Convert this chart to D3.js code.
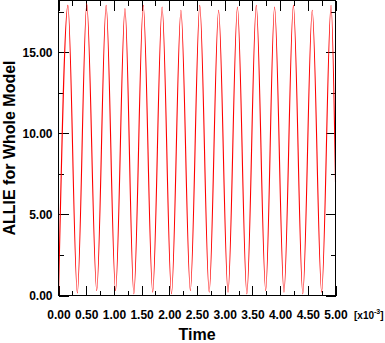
<!DOCTYPE html>
<html>
<head>
<meta charset="utf-8">
<script src="https://cdn.jsdelivr.net/npm/d3@7"></script>
<style>
  body { margin: 0; background: #fff; }
  svg { display: block; font-family: "Liberation Sans", Arial, sans-serif; font-weight: bold; }
</style>
</head>
<body>
<svg id="chart" width="385" height="343"></svg>
<script>
// time in [x10^-3], alternating trough / peak readings of ALLIE
const time = [0.00, 0.17, 0.34, 0.51, 0.69, 0.86, 1.03, 1.20, 1.36, 1.53, 1.70, 1.87,
  2.04, 2.21, 2.38, 2.55, 2.72, 2.89, 3.06, 3.23, 3.40, 3.57, 3.74, 3.90,
  4.07, 4.24, 4.41, 4.58, 4.75, 4.92, 5.00];
const allie = [0.0, 17.9, 0.15, 18.0, 0.3, 17.9, 0.3, 17.7, 0.1, 17.9, 0.2, 17.8,
  0.1, 17.6, 0.3, 17.9, 0.2, 17.6, 0.2, 17.8, 0.1, 17.9, 0.3, 17.8,
  0.2, 17.9, 0.1, 17.6, 0.2, 17.9, 7.0];

const xTicks = [0, 0.5, 1, 1.5, 2, 2.5, 3, 3.5, 4, 4.5, 5];
const xMinor = [0.25, 0.75, 1.25, 1.75, 2.25, 2.75, 3.25, 3.75, 4.25, 4.75];
const yTicks = [0, 5, 10, 15];
const yMinor = [2.5, 7.5, 12.5, 17.5];

const svg = d3.select('#chart');

const x = d3.scaleLinear().domain([0, 5]).range([58.5, 335.5]);
const y = d3.scaleLinear().domain([0, 18.2]).range([295.5, 0.5]);

const fmt = d3.format('.2f');

function styleAxis(g) {
  g.select('.domain').remove();
  g.selectAll('line').attr('stroke', '#000').attr('shape-rendering', 'crispEdges');
  g.selectAll('text').attr('fill', '#000').style('font-size', '12px').style('font-weight', 'bold');
}

// bottom
svg.append('g').attr('transform', 'translate(0,295.5)')
  .call(d3.axisBottom(x).tickValues(xTicks).tickFormat(fmt).tickSize(-10).tickPadding(15))
  .call(styleAxis);
svg.append('g').attr('transform', 'translate(0,295.5)')
  .call(d3.axisBottom(x).tickValues(xMinor).tickFormat('').tickSize(-5))
  .call(styleAxis);
// top
svg.append('g').attr('transform', 'translate(0,0.5)')
  .call(d3.axisTop(x).tickValues(xTicks).tickFormat('').tickSize(-10))
  .call(styleAxis);
svg.append('g').attr('transform', 'translate(0,0.5)')
  .call(d3.axisTop(x).tickValues(xMinor).tickFormat('').tickSize(-5))
  .call(styleAxis);
// left
svg.append('g').attr('transform', 'translate(58.5,0)')
  .call(d3.axisLeft(y).tickValues(yTicks).tickFormat(fmt).tickSize(-10).tickPadding(6))
  .call(styleAxis);
svg.append('g').attr('transform', 'translate(58.5,0)')
  .call(d3.axisLeft(y).tickValues(yMinor).tickFormat('').tickSize(-5))
  .call(styleAxis);
// right
svg.append('g').attr('transform', 'translate(335.5,0)')
  .call(d3.axisRight(y).tickValues(yTicks).tickFormat('').tickSize(-10))
  .call(styleAxis);
svg.append('g').attr('transform', 'translate(335.5,0)')
  .call(d3.axisRight(y).tickValues(yMinor).tickFormat('').tickSize(-5))
  .call(styleAxis);

// curve
const line = d3.line()
  .x((d, i) => x(time[i]))
  .y((d) => y(d))
  .curve(d3.curveMonotoneX);

svg.append('path')
  .attr('d', line(allie))
  .attr('fill', 'none')
  .attr('stroke', '#ff0000')
  .attr('stroke-width', 1.1);

// frame
svg.append('rect')
  .attr('x', 58.5).attr('y', 0.5)
  .attr('width', 277).attr('height', 295)
  .attr('fill', 'none')
  .attr('stroke', '#000')
  .attr('shape-rendering', 'crispEdges');

// titles
svg.append('text')
  .attr('x', 197).attr('y', 340)
  .attr('text-anchor', 'middle')
  .style('font-size', '16px')
  .text('Time');

svg.append('text')
  .attr('transform', 'translate(15,148)rotate(-90)')
  .attr('text-anchor', 'middle')
  .style('font-size', '16px')
  .text('ALLIE for Whole Model');

const unit = svg.append('text')
  .attr('x', 354).attr('y', 319)
  .style('font-size', '10px');
unit.append('tspan').text('[x10');
unit.append('tspan').attr('dy', -5).style('font-size', '7px').text('-3');
unit.append('tspan').attr('dy', 5).text(']');
</script>
</body>
</html>
